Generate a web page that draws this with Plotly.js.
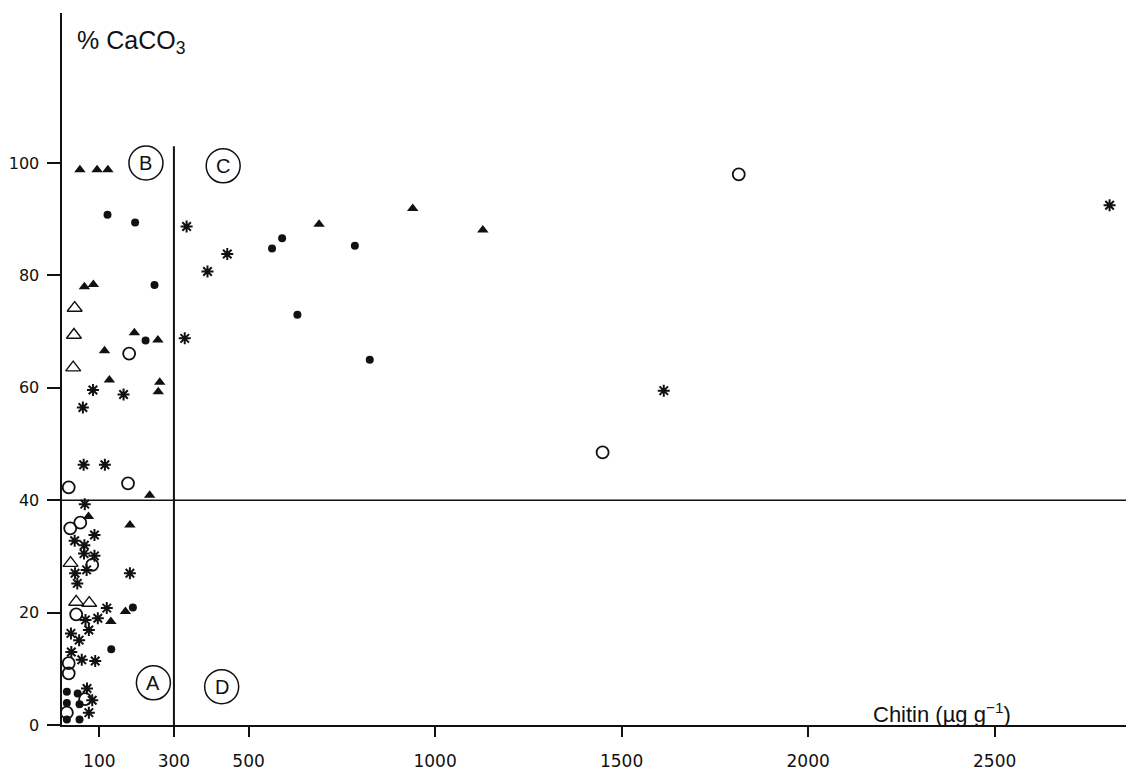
<!DOCTYPE html>
<html>
<head>
<meta charset="utf-8">
<script src="https://cdn.plot.ly/plotly-3.0.1.min.js"></script>
<style>html,body{margin:0;padding:0;background:#fff;}#chart{width:1128px;height:780px;}</style>
</head>
<body>
<div id="chart"></div>
<script>
// Chitin (µg g-1) vs % CaCO3
const filledTriX = [48, 94, 123, 60, 84, 194, 257, 114, 127, 262, 258, 235, 71, 182, 170, 131, 689, 940, 1128];
const filledTriY = [98.8, 98.8, 98.8, 78, 78.4, 69.8, 68.5, 66.6, 61.4, 61, 59.3, 40.9, 37.1, 35.6, 20.2, 18.4, 89.1, 91.9, 88.1];

const openTriX = [34, 32, 30, 23, 38, 73];
const openTriY = [74.2, 69.4, 63.6, 28.8, 21.9, 21.7];

const filledCircX = [122, 196, 248, 224, 563, 590, 785, 631, 825, 190, 132, 13, 42, 47, 13, 47, 13];
const filledCircY = [90.8, 89.4, 78.3, 68.4, 84.8, 86.6, 85.3, 73.0, 65.0, 20.9, 13.5, 5.9, 5.6, 3.7, 1.0, 1.0, 3.9];

const openCircX = [180, 177, 18, 49, 22, 81, 38, 18, 18, 13, 62, 1814, 1449];
const openCircY = [66.1, 43, 42.3, 36, 35, 28.5, 19.7, 11, 9.2, 2.2, 4.6, 98, 48.5];

const starX = [334, 390, 443, 329, 83, 165, 56, 58, 115, 61, 87, 34, 60, 87, 59, 66, 35, 41, 182, 120, 63, 96, 72, 24, 46, 25, 53, 89, 67, 81, 72, 1613, 2808];
const starY = [88.7, 80.7, 83.8, 68.8, 59.6, 58.8, 56.5, 46.3, 46.3, 39.3, 33.8, 32.8, 32, 30.1, 30.5, 27.6, 27, 25.2, 27, 20.8, 18.7, 19, 16.9, 16.3, 15.1, 13, 11.6, 11.4, 6.5, 4.4, 2.2, 59.5, 92.5];

const xTickVals = [100, 300, 500, 1000, 1500, 2000, 2500];
const xTickText = ['100', '300', '500', '1000', '1500', '2000', '2500'];
const yTickVals = [0, 20, 40, 60, 80, 100];
const yTickText = ['0', '20', '40', '60', '80', '100'];

// zone labels and dividing lines
const zoneLabels = ['B', 'C', 'A', 'D'];
const zoneX = [225, 432, 245, 428];
const zoneY = [100, 99.5, 7.5, 6.8];
const chitinLimit = 300;
const carbonateLimit = 40;

const ink = '#111';
const traces = [
  {x: filledTriX, y: filledTriY, mode: 'markers', type: 'scatter',
   marker: {symbol: 'triangle-up', size: 10, color: ink}},
  {x: openTriX, y: openTriY, mode: 'markers', type: 'scatter',
   marker: {symbol: 'triangle-up-open', size: 13, color: ink, line: {width: 1.4, color: ink}}},
  {x: filledCircX, y: filledCircY, mode: 'markers', type: 'scatter',
   marker: {symbol: 'circle', size: 8, color: ink}},
  {x: openCircX, y: openCircY, mode: 'markers', type: 'scatter',
   marker: {symbol: 'circle-open', size: 12, color: ink, line: {width: 1.8, color: ink}}},
  {x: starX, y: starY, mode: 'markers', type: 'scatter',
   marker: {symbol: 'asterisk-open', size: 10, color: ink, line: {width: 2, color: ink}}}
];

const shapes = [
  {type: 'line', xref: 'x', yref: 'y', x0: chitinLimit, x1: chitinLimit, y0: 0, y1: 103,
   line: {color: ink, width: 2}},
  {type: 'line', xref: 'paper', yref: 'y', x0: -0.012, x1: 1, y0: carbonateLimit, y1: carbonateLimit,
   line: {color: ink, width: 1.6}}
];
const annotations = [];
zoneLabels.forEach((t, i) => {
  shapes.push({type: 'circle', xref: 'x', yref: 'y', xsizemode: 'pixel', ysizemode: 'pixel',
    xanchor: zoneX[i], yanchor: zoneY[i], x0: -17, x1: 17, y0: -17, y1: 17,
    line: {color: ink, width: 1.5}});
  annotations.push({x: zoneX[i], y: zoneY[i], xref: 'x', yref: 'y', text: t, showarrow: false,
    font: {family: 'Liberation Sans, Arial, sans-serif', size: 20, color: ink}});
});
annotations.push({xref: 'paper', yref: 'paper', x: 0.012, y: 0.959, xanchor: 'left', yanchor: 'middle',
  text: '% CaCO<sub>3</sub>', showarrow: false,
  font: {family: 'Liberation Sans, Arial, sans-serif', size: 25, color: ink}});
annotations.push({xref: 'paper', yref: 'paper', x: 0.76, y: 0.017, xanchor: 'left', yanchor: 'middle',
  text: 'Chitin (µg g<sup>−1</sup>)', showarrow: false,
  font: {family: 'Liberation Sans, Arial, sans-serif', size: 22, color: ink}});

const layout = {
  width: 1128, height: 780,
  margin: {l: 62, r: 2, t: 13, b: 55},
  paper_bgcolor: '#fff', plot_bgcolor: '#fff',
  showlegend: false,
  xaxis: {range: [0, 2852], tickvals: xTickVals, ticktext: xTickText,
    showgrid: false, zeroline: false, showline: true, linecolor: ink, linewidth: 2,
    ticks: 'outside', ticklen: 10, tickwidth: 2, tickcolor: ink, ticklabelstandoff: 10,
    tickfont: {family: 'DejaVu Sans, sans-serif', size: 17, color: ink}},
  yaxis: {range: [0, 126.7], tickvals: yTickVals, ticktext: yTickText,
    showgrid: false, zeroline: false, showline: true, linecolor: ink, linewidth: 2.5,
    ticks: 'outside', ticklen: 13, tickwidth: 2, tickcolor: ink, ticklabelstandoff: 4,
    tickfont: {family: 'DejaVu Sans, sans-serif', size: 16, color: ink}},
  shapes: shapes,
  annotations: annotations
};

Plotly.newPlot('chart', traces, layout, {displayModeBar: false, staticPlot: true});
</script>
</body>
</html>
